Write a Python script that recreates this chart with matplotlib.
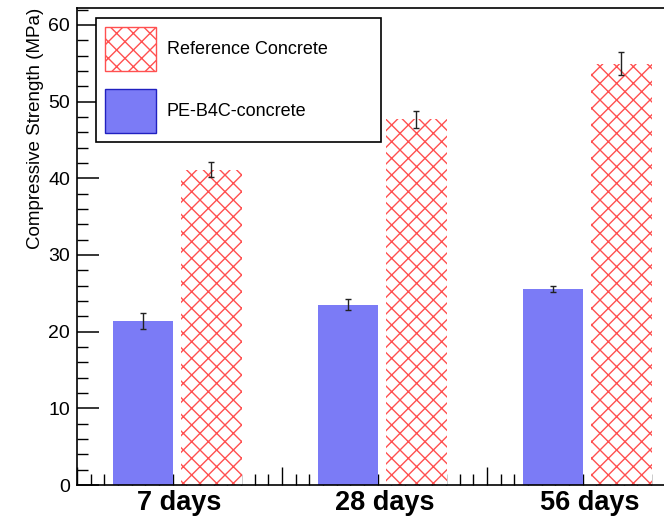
import numpy as np
import matplotlib
matplotlib.use("Agg")
import matplotlib.pyplot as plt
from matplotlib.ticker import MultipleLocator

plt.rcParams["font.family"] = ["Liberation Sans", "DejaVu Sans"]
plt.rcParams["hatch.linewidth"] = 1.0

# ── data ─────────────────────────────────────────────────────────────────────
categories = ["7 days", "28 days", "56 days"]
ref_strength = [41.1, 47.7, 54.9]
ref_err = [1.0, 1.1, 1.5]
pe_strength = [21.4, 23.5, 25.6]
pe_err = [1.0, 0.7, 0.4]

# ── figure ───────────────────────────────────────────────────────────────────
W, H = 664, 516
fig = plt.figure(figsize=(W / 100, H / 100), dpi=100)
ax = fig.add_axes([77 / W, (H - 485) / H, 615 / W, (485 - 8) / H])

x = np.arange(len(categories))
bw = 0.293
red = "#ff5050"

pe_bars = ax.bar(x + 0.32, pe_strength, bw, color="#7b7bf6", edgecolor="none",
                 label="PE-B4C-concrete", zorder=2)
ref_bars = ax.bar(x + 0.656, ref_strength, bw, facecolor="white",
                  edgecolor=red, hatch="xx", linewidth=0,
                  label="Reference Concrete", zorder=2)

ax.errorbar(x + 0.32, pe_strength, yerr=pe_err, fmt="none", ecolor="#222222",
            elinewidth=1.0, capsize=2, capthick=1.0, zorder=3)
ax.errorbar(x + 0.656, ref_strength, yerr=ref_err, fmt="none", ecolor="#222222",
            elinewidth=1.0, capsize=2, capthick=1.0, zorder=3)

ax.set_xlim(0, 3)
ax.set_ylim(0, 62.2)

# axes / ticks in ROOT style
ax.spines["right"].set_visible(False)
for s in ["left", "bottom", "top"]:
    ax.spines[s].set_linewidth(1.2)

ax.yaxis.set_major_locator(MultipleLocator(10))
ax.yaxis.set_minor_locator(MultipleLocator(2))
ax.tick_params(axis="y", which="major", direction="in", length=16, width=1.1,
               labelsize=14, pad=5)
ax.tick_params(axis="y", which="minor", direction="in", length=8, width=1.0)

ax.xaxis.set_major_locator(MultipleLocator(1 / 3))
ax.xaxis.set_minor_locator(MultipleLocator(1 / 15))
ax.tick_params(axis="x", which="major", direction="in", length=13, width=1.0,
               labelbottom=False)
ax.tick_params(axis="x", which="minor", direction="in", length=8, width=1.0)

for i, lab in enumerate(categories):
    ax.text(i + 0.5, -0.01, lab, transform=ax.get_xaxis_transform(),
            ha="center", va="top", fontsize=19.5, fontweight="bold")

ax.set_ylabel("Compressive Strength (MPa)", fontsize=13.5, loc="top", labelpad=3)

# legend box: x 96..381 px, y 18..143 px
leg = ax.legend(handles=[ref_bars, pe_bars],
                labels=["Reference Concrete", "PE-B4C-concrete"],
                loc="upper left", mode="expand",
                bbox_to_anchor=((96 - 77) / 615, (485 - 143) / 477,
                                (381 - 96) / 615, (143 - 18) / 477),
                fontsize=13, handlelength=2.82, handleheight=3.38,
                labelspacing=1.0, borderpad=0.5, handletextpad=0.61,
                borderaxespad=0, fancybox=False, framealpha=1,
                edgecolor="black")
leg.get_frame().set_linewidth(1.2)
for h in leg.legend_handles:
    h.set_linewidth(1.0)
leg.legend_handles[0].set_edgecolor(red)
leg.legend_handles[1].set_edgecolor("#2020c0")

fig.savefig("out.png", dpi=100)
